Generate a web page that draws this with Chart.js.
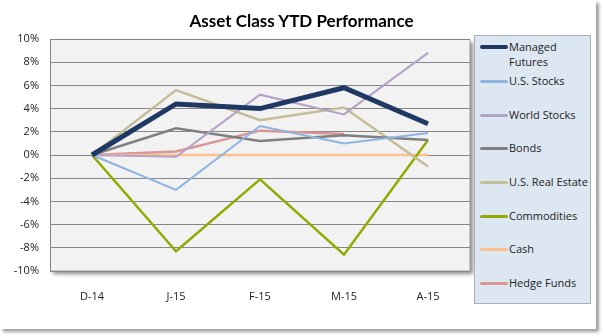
<!DOCTYPE html>
<html>
<head>
<meta charset="utf-8">
<script src="https://cdn.jsdelivr.net/npm/chart.js@4"></script>
<style>
    html, body { margin: 0; padding: 0; background: #fff; }
    #wrap { position: relative; width: 603px; height: 336px; overflow: hidden; }
    #frame {
        position: absolute; left: 0; top: 0; width: 596px; height: 329px;
        background: #fff; box-shadow: 3px 3px 3px #a0a0a0;
    }
    #chart { position: absolute; left: 0; top: 0; }
    #title {
        position: absolute; left: 0; top: 10px; width: 603px; text-align: center;
        font-family: Lato, sans-serif; font-size: 17px; font-weight: bold; color: #000;
    }
    #legend {
        position: absolute; left: 474px; top: 35px; width: 117px; height: 269px;
        background: #dde7f2; border: 1px solid #a8b0ba; box-sizing: border-box;
        font-family: "Open Sans", sans-serif; font-size: 11px; color: #222;
    }
    .item { position: absolute; left: 5px; display: flex; align-items: flex-start; }
    .swatch { width: 28px; margin-right: 1px; flex: none; }
    .label { line-height: 15px; }
</style>
</head>
<body>
<div id="wrap">
    <div id="frame"></div>
    <canvas id="chart" width="603" height="336"></canvas>
    <div id="title">Asset Class YTD Performance</div>
    <div id="legend"></div>
</div>
<script>
// Chart data
const months = ['D-14', 'J-15', 'F-15', 'M-15', 'A-15'];
const seriesNames = ['Managed Futures', 'U.S. Stocks', 'World Stocks', 'Bonds',
    'U.S. Real Estate', 'Commodities', 'Cash', 'Hedge Funds'];
const managedFutures = [0, 4.4, 4.0, 5.8, 2.7];
const usStocks = [0, -3.0, 2.5, 1.0, 1.9];
const worldStocks = [0, -0.15, 5.2, 3.5, 8.8];
const bonds = [0, 2.3, 1.2, 1.7, 1.3];
const usRealEstate = [0, 5.6, 3.0, 4.1, -1.0];
const commodities = [0, -8.3, -2.1, -8.6, 1.3];
const cash = [0, 0, 0, 0, 0];
const hedgeFunds = [0, 0.3, 2.1, 1.8, null];
const yTicks = [-10, -8, -6, -4, -2, 0, 2, 4, 6, 8, 10];

const seriesData = [managedFutures, usStocks, worldStocks, bonds,
    usRealEstate, commodities, cash, hedgeFunds];
const seriesColors = ['#1f3864', '#8db4e2', '#b3a2c7', '#7f7f7f',
    '#c4bd97', '#93a800', '#fac090', '#d99694'];
const seriesWidths = [5, 2, 2, 2.5, 2.5, 2.5, 2.5, 2.5];

// Plot area background with shadow
const plotBackground = {
    id: 'plotBackground',
    beforeDraw(chart) {
        const a = chart.chartArea;
        const ctx = chart.ctx;
        ctx.save();
        ctx.shadowColor = 'rgba(0,0,0,0.45)';
        ctx.shadowBlur = 4;
        ctx.shadowOffsetX = 3;
        ctx.shadowOffsetY = 3;
        ctx.fillStyle = '#f2f2f2';
        ctx.fillRect(a.left, a.top, a.right - a.left, a.bottom - a.top);
        ctx.restore();
        ctx.save();
        ctx.strokeStyle = '#c8c8c8';
        ctx.lineWidth = 1;
        ctx.strokeRect(a.left + 0.5, a.top + 0.5, a.right - a.left - 1, a.bottom - a.top - 1);
        ctx.restore();
    }
};

const datasets = seriesNames.map((name, i) => ({
    label: name,
    data: seriesData[i],
    borderColor: seriesColors[i],
    backgroundColor: seriesColors[i],
    borderWidth: seriesWidths[i],
    pointRadius: 0,
    tension: 0,
    fill: false,
    spanGaps: false
}));

new Chart(document.getElementById('chart').getContext('2d'), {
    type: 'line',
    data: { labels: months, datasets: datasets },
    plugins: [plotBackground],
    options: {
        responsive: false,
        animation: false,
        layout: { padding: { left: 0, right: 133, top: 39, bottom: 0 } },
        plugins: {
            legend: { display: false },
            tooltip: { enabled: false },
            title: { display: false }
        },
        scales: {
            x: {
                offset: true,
                grid: { display: false },
                border: { display: false },
                afterFit: s => { s.height = 65; },
                ticks: {
                    color: '#222',
                    padding: 11,
                    maxRotation: 0,
                    font: { family: 'Open Sans', size: 11 }
                }
            },
            y: {
                min: -10,
                max: 10,
                afterBuildTicks: s => { s.ticks = yTicks.map(v => ({ value: v })); },
                afterFit: s => { s.width = 50; },
                grid: { color: '#868686', lineWidth: 1, drawTicks: false },
                border: { display: true, color: '#868686' },
                ticks: {
                    color: '#222',
                    padding: 11,
                    font: { family: 'Open Sans', size: 11 },
                    callback: v => v + '%'
                }
            }
        }
    }
});

// Legend built from the same series
const legend = document.getElementById('legend');
const itemTops = [3, 37, 71, 104, 138, 172, 205, 239];
seriesNames.forEach((name, i) => {
    const item = document.createElement('div');
    item.className = 'item';
    item.style.top = itemTops[i] + 'px';
    const sw = document.createElement('div');
    sw.className = 'swatch';
    const h = i === 0 ? 4 : 3;
    sw.style.height = h + 'px';
    sw.style.marginTop = (8 - h / 2) + 'px';
    sw.style.background = seriesColors[i];
    sw.style.borderRadius = '2px';
    const lb = document.createElement('div');
    lb.className = 'label';
    lb.innerHTML = i === 0 ? 'Managed<br>Futures' : name;
    item.appendChild(sw);
    item.appendChild(lb);
    legend.appendChild(item);
});
</script>
</body>
</html>
